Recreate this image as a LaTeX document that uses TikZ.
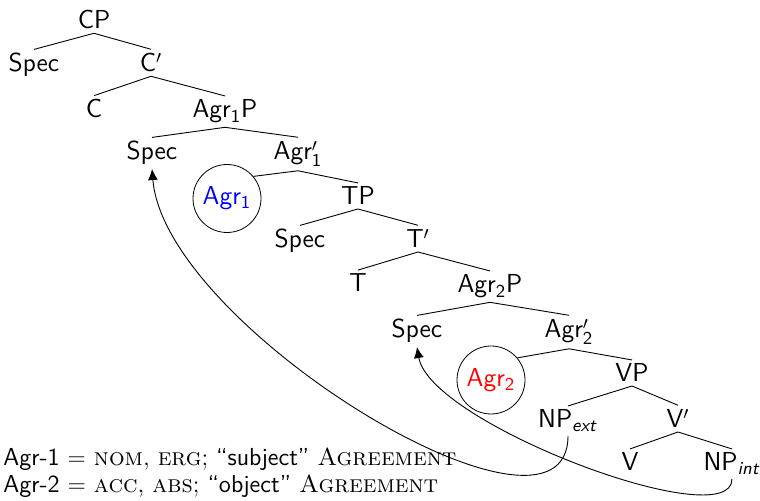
\documentclass[tikz,border=0pt]{standalone}
\usepackage{fontspec}
\usetikzlibrary{arrows.meta}
\begin{document}
\begin{tikzpicture}[x=0.5pt,y=-0.5pt,
  lab/.style={font=\sffamily\fontsize{13}{15}\selectfont, inner sep=1.8pt, anchor=base},
  headcirc/.style={draw, circle, minimum size=34pt, inner sep=0pt, font=\sffamily\fontsize{13}{15}\selectfont},
  branch/.style={line width=0.45pt},
  move/.style={line width=0.45pt, -{Latex[length=5.5pt,width=5pt]}},
  note/.style={anchor=base west, inner sep=0pt, font=\fontsize{12.3}{14}\selectfont}]
\useasboundingbox (0,0) rectangle (760,501);
% tree nodes
\node[lab] (cp) at (94,29) {CP};
\node[lab] (spec1) at (34,72) {Spec};
\node[lab] (cbar) at (151,72) {C$'$};
\node[lab] (c) at (94,118) {C};
\node[lab] (agr1p) at (225,118) {Agr\textsubscript{1}P};
\node[lab] (spec2) at (152,160) {Spec};
\node[lab] (agr1bar) at (298,160) {Agr$'_{\mathsf{1}}$};
\node[headcirc, text=blue] (agr1) at (227,198.5) {Agr\textsubscript{1}};
\node[lab] (tp) at (358,205) {TP};
\node[lab] (spec3) at (300,248) {Spec};
\node[lab] (tbar) at (418,248) {T$'$};
\node[lab] (t) at (358,292) {T};
\node[lab] (agr2p) at (490,293) {Agr\textsubscript{2}P};
\node[lab] (spec4) at (417,338) {Spec};
\node[lab] (agr2bar) at (569,338) {Agr$'_{\mathsf{2}}$};
\node[headcirc, text=red] (agr2) at (491,380) {Agr\textsubscript{2}};
\node[lab] (vp) at (632,382) {VP};
\node[lab] (npext) at (568,428) {NP\textsubscript{\textit{ext}}};
\node[lab] (vbar) at (678,428) {V$'$};
\node[lab] (v) at (630,471) {V};
\node[lab] (npint) at (732,471) {NP\textsubscript{\textit{int}}};
% branches
\draw[branch] (spec1.north) -- (cp.south) -- (cbar.north);
\draw[branch] (c.north) -- (cbar.south) -- (agr1p.north);
\draw[branch] (spec2.north) -- (agr1p.south) -- (agr1bar.north);
\draw[branch] (agr1.40) -- (agr1bar.south) -- (tp.north);
\draw[branch] (spec3.north) -- (tp.south) -- (tbar.north);
\draw[branch] (t.north) -- (tbar.south) -- (agr2p.north);
\draw[branch] (spec4.north) -- (agr2p.south) -- (agr2bar.north);
\draw[branch] (agr2.40) -- (agr2bar.south) -- (vp.north);
\draw[branch] (npext.north) -- (vp.south) -- (vbar.north);
\draw[branch] (v.north) -- (vbar.south) -- (npint.north);
% movement arrows
\draw[move] (npext.south) .. controls +(0,135) and +(13,160) .. (spec2.south);
\draw[move] (npint.south) .. controls +(0,58) and +(13,77) .. (spec4.south);
% notes
\node[note] (n1) at (3,466) {\textsf{Agr-1} $=$ \textsc{nom}, \textsc{erg}; \textsf{``subject''} \textsc{Agreement}};
\node[note] (n2) at (3,493) {\textsf{Agr-2} $=$ \textsc{acc}, \textsc{abs}; \textsf{``object''} \textsc{Agreement}};
\end{tikzpicture}
\end{document}
